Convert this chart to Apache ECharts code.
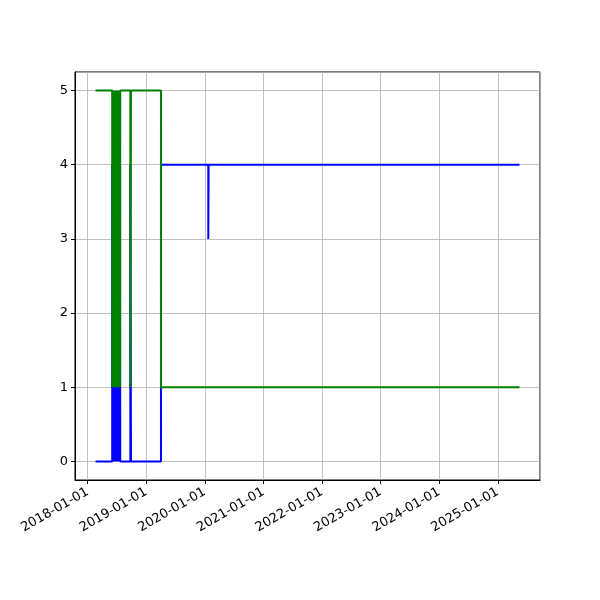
<!DOCTYPE html>
<html>
<head>
<meta charset="utf-8">
<script src="https://cdn.jsdelivr.net/npm/echarts@6/dist/echarts.min.js"></script>
<style>html,body{margin:0;padding:0;background:#fff}#c{width:600px;height:600px}</style>
</head>
<body>
<div id="c"></div>
<script>
const dates = ['2018-02-19','2018-06-03','2018-06-04','2018-06-05','2018-06-07','2018-06-08','2018-06-10','2018-06-11','2018-06-13',
  '2018-06-20','2018-06-22','2018-06-24','2018-06-26','2018-06-28','2018-06-30','2018-07-02','2018-07-04','2018-07-06',
  '2018-07-08','2018-07-10','2018-07-12','2018-07-14','2018-07-16','2018-07-18','2018-07-20','2018-07-22','2018-07-23',
  '2018-09-24','2018-09-28','2019-04-03','2020-01-23','2020-01-25','2025-05-16'];
const blueValues  = [0,4,0,4,0,4,0,4,0,4,0,4,0,4,0,4,0,4,0,4,0,4,0,4,0,4,0,4,0,4,3,4,4];
const greenValues = [5,1,5,1,5,1,5,1,5,1,5,1,5,1,5,1,5,1,5,1,5,1,5,1,5,1,5,1,5,1,1,1,1];
const xMin = '2017-10-14';
const xMax = '2025-09-21';
const yMin = -0.25, yMax = 5.25;

const chart = echarts.init(document.getElementById('c'), null, {renderer: 'canvas'});
const font = 'DejaVu Sans';
chart.setOption({
  animation: false,
  backgroundColor: '#fff',
  grid: {left: 75, right: 60, top: 72, bottom: 120, show: true, borderColor: '#000', borderWidth: 1, containLabel: false},
  xAxis: {
    type: 'time',
    min: new Date(xMin).getTime(),
    max: new Date(xMax).getTime(),
    minInterval: 365 * 86400000,
    splitNumber: 8,
    axisLine: {show: true, onZero: false, lineStyle: {color: '#000', width: 1}},
    axisTick: {show: true, inside: false, length: 4, lineStyle: {color: '#000'}},
    axisLabel: {
      rotate: 30, color: '#000', fontFamily: font, fontSize: 13, margin: 11,
      hideOverlap: false,
      formatter: v => echarts.time.format(v, '{yyyy}-{MM}-{dd}', false)
    },
    splitLine: {show: true, lineStyle: {color: '#b0b0b0', width: 0.8}}
  },
  yAxis: {
    type: 'value',
    min: yMin, max: yMax,
    splitNumber: 5,
    axisLine: {show: true, onZero: false, lineStyle: {color: '#000', width: 1}},
    axisTick: {show: true, length: 4, lineStyle: {color: '#000'}},
    axisLabel: {color: '#000', fontFamily: font, fontSize: 13, margin: 7, showMinLabel: false, showMaxLabel: false},
    splitLine: {show: true, lineStyle: {color: '#b0b0b0', width: 0.8}}
  },
  series: [
    {type: 'line', step: 'end', showSymbol: false, symbol: 'none',
     lineStyle: {color: '#0000ff', width: 2}, itemStyle: {color: '#0000ff'},
     data: dates.map((d, i) => [d, blueValues[i]])},
    {type: 'line', step: 'end', showSymbol: false, symbol: 'none',
     lineStyle: {color: '#008000', width: 2}, itemStyle: {color: '#008000'},
     data: dates.map((d, i) => [d, greenValues[i]])}
  ]
});
</script>
</body>
</html>
